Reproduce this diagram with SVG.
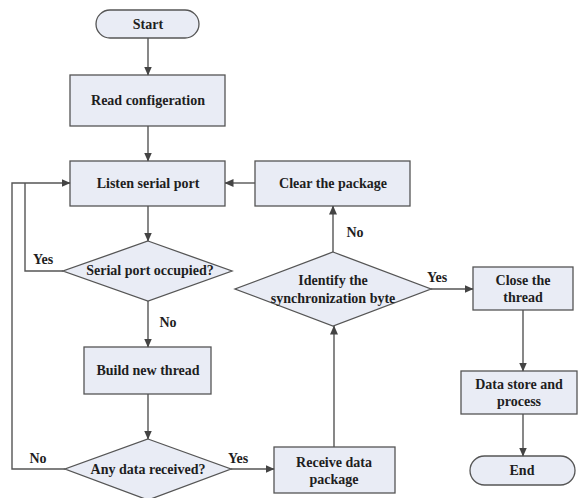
<svg xmlns="http://www.w3.org/2000/svg" width="579" height="498" viewBox="0 0 579 498">
  <style>
    .box { fill: #e9ecf5; stroke: #555; stroke-width: 1.3; }
    .lbl { font-family: "Liberation Serif", "Times New Roman", serif; font-weight: bold; font-size: 14px; fill: #1e1e1e; text-anchor: middle; dominant-baseline: central; }
    .edge { fill: none; stroke: #555; stroke-width: 1.4; }
  </style>
  <defs>
    <marker id="arr" markerWidth="9" markerHeight="8" refX="8.5" refY="4" orient="auto" markerUnits="userSpaceOnUse">
      <path d="M0,0 L9,4 L0,8 Z" fill="#444"/>
    </marker>
  </defs>
  <rect width="579" height="498" fill="#fff"/>

  <g id="start">
    <rect class="box" x="96" y="10" width="103" height="28" rx="14"/>
    <text class="lbl" x="148" y="24">Start</text>
  </g>
  <g id="read-config">
    <rect class="box" x="70" y="75" width="155" height="51"/>
    <text class="lbl" x="148" y="100">Read configeration</text>
  </g>
  <g id="listen">
    <rect class="box" x="70" y="161" width="155" height="45"/>
    <text class="lbl" x="148" y="183">Listen serial port</text>
  </g>
  <g id="clear">
    <rect class="box" x="255" y="161" width="155" height="45"/>
    <text class="lbl" x="333" y="183">Clear the package</text>
  </g>
  <g id="occupied">
    <polygon class="box" points="148,241 232,271 148,301 63,271"/>
    <text class="lbl" x="150" y="270">Serial port occupied?</text>
  </g>
  <g id="build">
    <rect class="box" x="84" y="347" width="127" height="47"/>
    <text class="lbl" x="148" y="370">Build new thread</text>
  </g>
  <g id="received">
    <polygon class="box" points="148,439 231,469 148,500 65,469"/>
    <text class="lbl" x="148" y="469">Any data received?</text>
  </g>
  <g id="receive-pkg">
    <rect class="box" x="274" y="447" width="121" height="46"/>
    <text class="lbl" x="334" y="462">Receive data</text>
    <text class="lbl" x="334" y="479">package</text>
  </g>
  <g id="identify">
    <polygon class="box" points="333,252 431,289 333,326 235,289"/>
    <text class="lbl" x="333" y="280">Identify the</text>
    <text class="lbl" x="333" y="298">synchronization byte</text>
  </g>
  <g id="close">
    <rect class="box" x="473" y="267" width="100" height="43"/>
    <text class="lbl" x="523" y="280">Close the</text>
    <text class="lbl" x="523" y="297">thread</text>
  </g>
  <g id="store">
    <rect class="box" x="461" y="371" width="116" height="43"/>
    <text class="lbl" x="519" y="384">Data store and</text>
    <text class="lbl" x="519" y="401">process</text>
  </g>
  <g id="end">
    <rect class="box" x="470" y="456" width="105" height="29" rx="14.5"/>
    <text class="lbl" x="522" y="470">End</text>
  </g>

  <g id="connectors">
    <line class="edge" x1="148" y1="38" x2="148" y2="75" marker-end="url(#arr)"/>
    <line class="edge" x1="148" y1="126" x2="148" y2="161" marker-end="url(#arr)"/>
    <line class="edge" x1="148" y1="206" x2="148" y2="241" marker-end="url(#arr)"/>
    <line class="edge" x1="255" y1="183" x2="225" y2="183" marker-end="url(#arr)"/>
    <polyline class="edge" points="63,271 25,271 25,183"/>
    <polyline class="edge" points="65,469 12,469 12,183 70,183" marker-end="url(#arr)"/>
    <line class="edge" x1="148" y1="301" x2="148" y2="347" marker-end="url(#arr)"/>
    <line class="edge" x1="148" y1="394" x2="148" y2="439" marker-end="url(#arr)"/>
    <line class="edge" x1="231" y1="469" x2="274" y2="469" marker-end="url(#arr)"/>
    <line class="edge" x1="334" y1="447" x2="334" y2="326" marker-end="url(#arr)"/>
    <line class="edge" x1="333" y1="252" x2="333" y2="206" marker-end="url(#arr)"/>
    <line class="edge" x1="431" y1="289" x2="473" y2="289" marker-end="url(#arr)"/>
    <line class="edge" x1="523" y1="310" x2="523" y2="371" marker-end="url(#arr)"/>
    <line class="edge" x1="523" y1="414" x2="523" y2="456" marker-end="url(#arr)"/>
    <text class="lbl" x="43" y="259">Yes</text>
    <text class="lbl" x="168" y="322">No</text>
    <text class="lbl" x="38" y="458">No</text>
    <text class="lbl" x="238" y="458">Yes</text>
    <text class="lbl" x="355" y="232">No</text>
    <text class="lbl" x="437" y="277">Yes</text>
  </g>
</svg>
